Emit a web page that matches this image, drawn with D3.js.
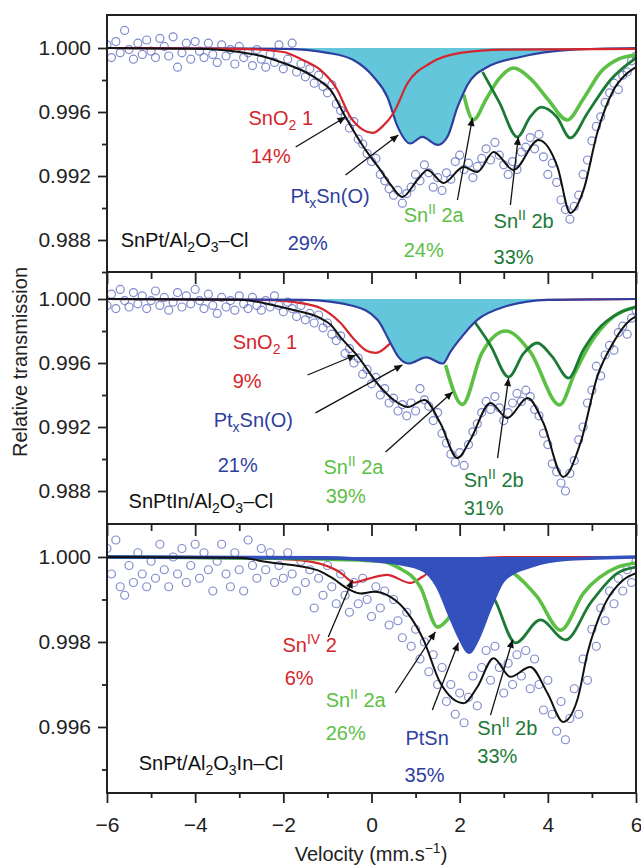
<!DOCTYPE html>
<html>
<head>
<meta charset="utf-8">
<script src="https://cdn.jsdelivr.net/npm/d3@7"></script>
<style>
body { margin: 0; background: #fff; }
text { font-family: "Liberation Sans", Arial, Helvetica, sans-serif; }
</style>
</head>
<body>
<svg id="chart" width="641" height="867"></svg>
<script>
// channel velocities (mm/s)
const velocity = [
  -6,-5.9,-5.8,-5.7,-5.6,-5.5,-5.4,-5.3,-5.2,-5.1,
  -5,-4.9,-4.8,-4.7,-4.6,-4.5,-4.4,-4.3,-4.2,-4.1,
  -4,-3.9,-3.8,-3.7,-3.6,-3.5,-3.4,-3.3,-3.2,-3.1,
  -3,-2.9,-2.8,-2.7,-2.6,-2.5,-2.4,-2.3,-2.2,-2.1,
  -2,-1.9,-1.8,-1.7,-1.6,-1.5,-1.4,-1.3,-1.2,-1.1,
  -1,-0.9,-0.8,-0.7,-0.6,-0.5,-0.4,-0.3,-0.2,-0.1,
  0,0.1,0.2,0.3,0.4,0.5,0.6,0.7,0.8,0.9,
  1,1.1,1.2,1.3,1.4,1.5,1.6,1.7,1.8,1.9,
  2,2.1,2.2,2.3,2.4,2.5,2.6,2.7,2.8,2.9,
  3,3.1,3.2,3.3,3.4,3.5,3.6,3.7,3.8,3.9,
  4,4.1,4.2,4.3,4.4,4.5,4.6,4.7,4.8,4.9,
  5,5.1,5.2,5.3,5.4,5.5,5.6,5.7,5.8,5.9,
  6];

// measured transmission, panel 1 (SnPt/Al2O3-Cl)
const meas1 = [
  1.0002,0.9994,1.0004,0.9997,1.0011,0.9999,0.9993,1.0003,0.9996,1.0005,
  0.9998,0.9994,1.0006,1.0001,0.9995,1.0007,0.9988,0.9997,1.0003,0.9993,
  1.0004,0.9998,0.9994,1.0003,0.9996,0.9991,1.0002,0.9995,0.9999,0.9990,
  1.0001,0.9994,0.9997,0.9989,0.9999,0.9993,0.9988,0.9996,0.9991,1.0002,
  0.9987,0.9993,1.0003,0.9985,0.9990,0.9982,0.9987,0.9978,0.9983,0.9976,
  0.9972,0.9977,0.9965,0.9961,0.9958,0.9950,0.9954,0.9943,0.9940,0.9934,
  0.9929,0.9931,0.9921,0.9917,0.9912,0.9908,0.9911,0.9903,0.9909,0.9913,
  0.9921,0.9917,0.9927,0.9922,0.9913,0.9919,0.9911,0.9922,0.9918,0.9929,
  0.9933,0.9924,0.9928,0.9919,0.9926,0.9931,0.9937,0.9930,0.9941,0.9933,
  0.9927,0.9921,0.9929,0.9924,0.9935,0.9938,0.9944,0.9937,0.9946,0.9932,
  0.9921,0.9928,0.9916,0.9905,0.9899,0.9893,0.9901,0.9908,0.9921,0.9930,
  0.9942,0.9951,0.9957,0.9966,0.9972,0.9978,0.9974,0.9983,0.9985,0.9992,
  0.9995];

// panel 2 (SnPtIn/Al2O3-Cl)
const meas2 = [
  0.9996,1.0003,0.9994,1.0006,0.9999,0.9995,1.0004,0.9997,1.0002,0.9994,
  0.9999,1.0005,0.9996,1.0001,0.9993,0.9998,1.0004,0.9995,1.0002,0.9997,
  1.0006,0.9999,0.9994,1.0003,0.9996,0.9991,1.0001,0.9995,0.9999,0.9993,
  1.0002,0.9997,0.9994,1.0001,0.9996,0.9993,0.9999,0.9995,1.0002,0.9996,
  0.9992,0.9998,0.9994,0.9989,0.9996,0.9987,0.9991,0.9985,0.9990,0.9982,
  0.9985,0.9978,0.9974,0.9977,0.9966,0.9969,0.9960,0.9963,0.9953,0.9956,
  0.9947,0.9951,0.9940,0.9944,0.9935,0.9938,0.9930,0.9934,0.9927,0.9935,
  0.9930,0.9944,0.9937,0.9933,0.9924,0.9929,0.9916,0.9910,0.9903,0.9898,
  0.9904,0.9896,0.9909,0.9917,0.9922,0.9929,0.9936,0.9931,0.9939,0.9932,
  0.9924,0.9929,0.9935,0.9941,0.9936,0.9943,0.9939,0.9931,0.9927,0.9916,
  0.9909,0.9897,0.9892,0.9885,0.9880,0.9891,0.9899,0.9912,0.9920,0.9935,
  0.9943,0.9958,0.9952,0.9965,0.9971,0.9968,0.9979,0.9983,0.9978,0.9988,
  0.9993];

// panel 3 (SnPt/Al2O3In-Cl)
const meas3 = [
  1.0002,0.9996,1.0004,0.9993,0.9991,0.9998,0.9994,1.0001,0.9996,0.9993,
  0.9999,0.9995,1.0003,0.9997,0.9993,1.0000,0.9996,1.0002,0.9994,0.9998,
  1.0003,0.9995,1.0001,0.9997,0.9992,0.9999,1.0003,0.9996,0.9993,1.0001,
  0.9997,0.9992,1.0004,0.9998,0.9995,1.0002,0.9997,1.0001,0.9994,0.9998,
  0.9995,1.0001,0.9996,0.9992,0.9999,0.9994,0.9997,0.9988,0.9995,0.9991,
  0.9998,0.9993,0.9989,0.9996,0.9991,0.9987,0.9994,0.9989,0.9995,0.9990,
  0.9986,0.9993,0.9988,0.9992,0.9984,0.9990,0.9985,0.9981,0.9987,0.9979,
  0.9983,0.9976,0.9980,0.9973,0.9977,0.9970,0.9974,0.9966,0.9970,0.9963,
  0.9968,0.9961,0.9967,0.9972,0.9965,0.9974,0.9978,0.9971,0.9979,0.9974,
  0.9968,0.9975,0.9970,0.9977,0.9972,0.9978,0.9969,0.9976,0.9970,0.9964,
  0.9971,0.9963,0.9959,0.9966,0.9957,0.9962,0.9969,0.9963,0.9976,0.9971,
  0.9983,0.9979,0.9988,0.9985,0.9992,0.9989,0.9995,0.9992,0.9997,0.9994,
  0.9999];

// fitted curves [velocity, transmission]
const fit1 = [[-6,1],[-4,0.99995],[-3,0.99975],[-2.5,0.9995],[-2,0.99906],[-1.5,0.9985],[-1.2,0.998],[-0.93,0.99738],[-0.59,0.99569],[-0.18,0.99381],[0.2,0.99238],[0.45,0.9914],[0.7,0.99069],[1.04,0.99175],[1.27,0.99238],[1.63,0.99156],[2.09,0.99256],[2.4,0.99225],[2.77,0.9935],[3.22,0.99238],[3.79,0.99425],[4.22,0.99256],[4.51,0.98969],[4.81,0.99113],[5.12,0.99469],[5.49,0.99738],[5.75,0.9983],[6,0.99881]];
const snO2_1 = [[-6,1],[-3,0.99995],[-2,0.99975],[-1.6,0.9993],[-1.16,0.99863],[-0.8,0.9975],[-0.48,0.9957],[-0.2,0.9949],[0.03,0.99469],[0.25,0.9951],[0.5,0.99594],[0.82,0.99781],[1.34,0.99906],[2.02,0.99969],[3,0.9999],[6,0.99995]];
const ptxSn_1 = [[-6,1],[-2,0.99995],[-1,0.9997],[-0.41,0.99925],[0.05,0.99819],[0.36,0.99694],[0.59,0.9951],[0.88,0.99403],[1.15,0.99444],[1.5,0.99394],[1.72,0.99444],[1.95,0.9963],[2.09,0.9972],[2.18,0.9977],[2.63,0.99881],[3.38,0.99944],[4.5,0.99988],[6,1]];
const snII2a_1 = [[2.09,0.9971],[2.31,0.9955],[2.6,0.9968],[2.9,0.9981],[3.22,0.99875],[3.6,0.9981],[4.0,0.9968],[4.44,0.9955],[4.8,0.9968],[5.2,0.9985],[5.6,0.9993],[6,0.99956]];
const snII2b_1 = [[2.52,0.9985],[2.9,0.9966],[3.31,0.99444],[3.6,0.9957],[3.85,0.9963],[4.2,0.9957],[4.51,0.99438],[4.9,0.99594],[5.42,0.998],[6,0.99938]];

const fit2 = [[-6,1],[-3,0.99995],[-2.2,0.9996],[-1.77,0.99931],[-1.16,0.9988],[-0.93,0.9984],[-0.7,0.9976],[-0.35,0.99655],[0.2,0.9945],[0.5,0.9937],[0.82,0.99325],[1.2,0.99369],[1.56,0.99225],[1.95,0.99006],[2.24,0.99119],[2.7,0.9935],[3.08,0.99256],[3.54,0.99381],[3.9,0.99225],[4.35,0.98888],[4.74,0.991],[5.12,0.99513],[5.5,0.99735],[5.87,0.99869],[6,0.9989]];
const snO2_2 = [[-6,1],[-2.5,0.99995],[-1.5,0.9997],[-1.16,0.99944],[-0.7,0.9985],[-0.4,0.9975],[-0.1,0.99675],[0.1,0.99663],[0.43,0.99725],[0.8,0.9985],[1.5,0.9995],[3,0.9999],[6,1]];
const ptxSn_2 = [[-6,1],[-1.5,0.99995],[-0.41,0.99956],[0.14,0.99869],[0.43,0.99725],[0.61,0.99638],[0.84,0.99597],[1.24,0.99635],[1.62,0.99597],[1.79,0.9967],[1.95,0.9973],[2.4,0.9987],[3.0,0.9995],[4,0.99995],[6,1]];
const snII2a_2 = [[1.68,0.99588],[2.06,0.9934],[2.5,0.9966],[3.05,0.998],[3.6,0.9967],[4.27,0.99338],[4.6,0.9953],[4.97,0.99725],[5.4,0.9987],[6,0.9995]];
const snII2b_2 = [[2.31,0.99869],[2.7,0.9971],[3.11,0.99513],[3.45,0.9966],[3.76,0.99725],[4.1,0.9964],[4.47,0.99506],[4.8,0.9968],[5.12,0.99806],[5.6,0.9991],[6,0.9995]];

const fit3 = [[-6,1],[-3,0.99998],[-2.36,0.99988],[-1.23,0.99969],[-0.93,0.99953],[-0.48,0.99922],[-0.25,0.99914],[0.05,0.99918],[0.43,0.99906],[0.82,0.99868],[1.18,0.99805],[1.56,0.99704],[2.09,0.99656],[2.4,0.99694],[2.77,0.99762],[3.15,0.99718],[3.6,0.99741],[3.99,0.9968],[4.35,0.99612],[4.67,0.99664],[4.9,0.99774],[5.26,0.99882],[5.71,0.99946],[6,0.99962]];
const snIV2_3 = [[-6,1],[-2,0.99995],[-1.2,0.99985],[-0.7,0.99963],[-0.4,0.9994],[-0.1,0.99948],[0.35,0.99958],[0.88,0.99939],[1.15,0.99953],[1.6,0.99985],[3,1],[6,1]];
const snII2a_3 = [[-6,1],[-1,0.99995],[0.2,0.9999],[0.59,0.99976],[1.11,0.99929],[1.5,0.99835],[1.75,0.99856],[2.2,0.9995],[2.7,0.9998],[3.22,0.99962],[3.76,0.99906],[4.29,0.99828],[4.81,0.99915],[5.58,0.99976],[6,0.99986]];
const snII2b_3 = [[-6,1],[0,0.99995],[1.5,0.9997],[2.3,0.9995],[2.77,0.99904],[3.27,0.99798],[3.83,0.99852],[4.4,0.99805],[4.97,0.99892],[5.58,0.99962],[6,0.99976]];
const ptSn_3 = [[-6,1],[-1,0.99998],[0.2,0.9999],[0.59,0.99985],[1.18,0.99969],[1.5,0.9993],[1.79,0.99859],[2.0,0.9981],[2.22,0.99776],[2.4,0.99805],[2.7,0.99882],[3.0,0.99946],[3.6,0.99978],[4.5,0.99995],[6,1]];

const xMajor = [-6, -4, -2, 0, 2, 4, 6];
const xMinor = [-5, -3, -1, 1, 3, 5];

const RED = '#d4262c', BLUE = '#2e3f9f', CYAN = '#63c6da', NAVY = '#3350bd';
const LGREEN = '#5cc045', DGREEN = '#1d7a36';

const panels = [
  { top: 15, bottom: 272, domain: [0.986, 1.0020625],
    major: [1.000, 0.996, 0.992, 0.988], minor: [0.998, 0.994, 0.990, 0.986],
    meas: meas1,
    layers: [
      { d: snII2a_1, c: LGREEN, w: 3.6 },
      { d: snII2b_1, c: DGREEN, w: 2.8 },
      { d: ptxSn_1, c: BLUE, w: 2.2, fill: CYAN },
      { d: snO2_1, c: RED, w: 2.2 },
      { d: fit1, c: '#111', w: 2 }
    ],
    labels: [
      { x: -2.79, y: 0.99519, c: RED, t: [['SnO'], ['2', 'sub'], [' 1']] },
      { x: -2.74, y: 0.99281, c: RED, t: [['14%']] },
      { x: -1.84, y: 0.99031, c: BLUE, t: [['Pt'], ['x', 'sub'], ['Sn(O)']] },
      { x: -1.9, y: 0.98738, c: BLUE, t: [['29%']] },
      { x: 0.73, y: 0.98913, c: LGREEN, t: [['Sn'], ['II', 'sup'], [' 2a']] },
      { x: 0.73, y: 0.98694, c: LGREEN, t: [['24%']] },
      { x: 2.77, y: 0.98875, c: DGREEN, t: [['Sn'], ['II', 'sup'], [' 2b']] },
      { x: 2.77, y: 0.9865, c: DGREEN, t: [['33%']] },
      { x: -5.69, y: 0.98756, c: '#111', t: [['SnPt/Al'], ['2', 'sub'], ['O'], ['3', 'sub'], ['–Cl']] }
    ],
    arrows: [
      [-1.72, 0.99381, -0.59, 0.99569],
      [-0.59, 0.99206, 0.61, 0.99456],
      [1.95, 0.9905, 2.29, 0.99563],
      [3.15, 0.99019, 3.33, 0.99444]
    ] },
  { top: 272, bottom: 524, domain: [0.9859375, 1.0016875],
    major: [1.000, 0.996, 0.992, 0.988], minor: [0.998, 0.994, 0.990],
    meas: meas2,
    layers: [
      { d: snO2_2, c: RED, w: 2.2 },
      { d: snII2a_2, c: LGREEN, w: 3.6 },
      { d: snII2b_2, c: DGREEN, w: 2.8 },
      { d: ptxSn_2, c: BLUE, w: 2.2, fill: CYAN },
      { d: fit2, c: '#111', w: 2 }
    ],
    labels: [
      { x: -3.15, y: 0.99688, c: RED, t: [['SnO'], ['2', 'sub'], [' 1']] },
      { x: -3.15, y: 0.99444, c: RED, t: [['9%']] },
      { x: -3.58, y: 0.992, c: BLUE, t: [['Pt'], ['x', 'sub'], ['Sn(O)']] },
      { x: -3.49, y: 0.9892, c: BLUE, t: [['21%']] },
      { x: -1.09, y: 0.98906, c: LGREEN, t: [['Sn'], ['II', 'sup'], [' 2a']] },
      { x: -1.04, y: 0.98725, c: LGREEN, t: [['39%']] },
      { x: 2.09, y: 0.98825, c: DGREEN, t: [['Sn'], ['II', 'sup'], [' 2b']] },
      { x: 2.09, y: 0.9865, c: DGREEN, t: [['31%']] },
      { x: -5.51, y: 0.98694, c: '#111', t: [['SnPtIn/Al'], ['2', 'sub'], ['O'], ['3', 'sub'], ['–Cl']] }
    ],
    arrows: [
      [-1.45, 0.99525, -0.36, 0.9965],
      [-1.27, 0.99288, 0.7, 0.99588],
      [0.32, 0.99044, 1.84, 0.99419],
      [2.86, 0.99006, 3.11, 0.99506]
    ] },
  { top: 524, bottom: 793, domain: [0.994447, 1.000776],
    major: [1.000, 0.998, 0.996], minor: [0.999, 0.997, 0.995],
    meas: meas3,
    layers: [
      { d: snIV2_3, c: RED, w: 2.2 },
      { d: snII2a_3, c: LGREEN, w: 3.6 },
      { d: snII2b_3, c: DGREEN, w: 2.8 },
      { d: ptSn_3, c: NAVY, w: 3.5, fill: NAVY },
      { d: fit3, c: '#111', w: 2 }
    ],
    labels: [
      { x: -2.02, y: 0.99776, c: RED, t: [['Sn'], ['IV', 'sup'], [' 2']] },
      { x: -1.97, y: 0.99699, c: RED, t: [['6%']] },
      { x: -1.04, y: 0.99647, c: LGREEN, t: [['Sn'], ['II', 'sup'], [' 2a']] },
      { x: -1.04, y: 0.99569, c: LGREEN, t: [['26%']] },
      { x: 0.77, y: 0.99558, c: BLUE, t: [['PtSn']] },
      { x: 0.75, y: 0.99471, c: BLUE, t: [['35%']] },
      { x: 2.4, y: 0.99581, c: DGREEN, t: [['Sn'], ['II', 'sup'], [' 2b']] },
      { x: 2.4, y: 0.99515, c: DGREEN, t: [['33%']] },
      { x: -5.28, y: 0.99499, c: '#111', t: [['SnPt/Al'], ['2', 'sub'], ['O'], ['3', 'sub'], ['In–Cl']] }
    ],
    arrows: [
      [-0.98, 0.99812, -0.43, 0.99946],
      [0.54, 0.9968, 1.45, 0.99824],
      [1.38, 0.9964, 1.97, 0.99798],
      [2.7, 0.99628, 3.2, 0.99805]
    ] }
];

const svg = d3.select('#chart');
const x = d3.scaleLinear().domain([-6, 6]).range([107, 636]);

svg.append('defs').append('marker')
  .attr('id', 'arrow')
  .attr('viewBox', '0 0 10 10')
  .attr('refX', 10).attr('refY', 5)
  .attr('markerWidth', 9).attr('markerHeight', 8)
  .attr('markerUnits', 'userSpaceOnUse')
  .attr('orient', 'auto')
  .append('path').attr('d', 'M0,0.5L10,5L0,9.5z').attr('fill', '#111');

function rich(g, px, py, parts, color) {
  const t = g.append('text').attr('x', px).attr('y', py)
    .attr('fill', color).attr('font-size', 20);
  let shift = 0;
  parts.forEach(p => {
    const target = p[1] === 'sup' ? -8 : p[1] === 'sub' ? 5 : 0;
    const s = t.append('tspan').text(p[0]).attr('dy', target - shift);
    if (p[1]) s.attr('font-size', 14);
    shift = target;
  });
  return t;
}

panels.forEach((p, i) => {
  const y = d3.scaleLinear().domain(p.domain).range([p.bottom, p.top]);
  const g = svg.append('g');

  g.append('clipPath').attr('id', 'clip' + i)
    .append('rect').attr('x', 107).attr('y', p.top)
    .attr('width', 529).attr('height', p.bottom - p.top);
  const plot = g.append('g').attr('clip-path', `url(#clip${i})`);

  // measured points
  plot.selectAll('circle').data(p.meas).join('circle')
    .attr('cx', (d, j) => x(velocity[j]))
    .attr('cy', d => y(d))
    .attr('r', 4)
    .attr('fill', 'none')
    .attr('stroke', '#5566bb')
    .attr('stroke-width', 1.2)
    .attr('opacity', 0.75);

  const line = d3.line().x(d => x(d[0])).y(d => y(d[1])).curve(d3.curveMonotoneX);
  const area = d3.area().x(d => x(d[0])).y0(y(1)).y1(d => y(d[1])).curve(d3.curveMonotoneX);

  p.layers.forEach(l => {
    if (l.fill) {
      plot.append('path').attr('d', area(l.d)).attr('fill', l.fill);
    }
    plot.append('path').attr('d', line(l.d))
      .attr('fill', 'none').attr('stroke', l.c)
      .attr('stroke-width', l.w).attr('stroke-linejoin', 'round');
  });

  // annotations
  p.arrows.forEach(a => {
    g.append('line')
      .attr('x1', x(a[0])).attr('y1', y(a[1]))
      .attr('x2', x(a[2])).attr('y2', y(a[3]))
      .attr('stroke', '#111').attr('stroke-width', 1.3)
      .attr('marker-end', 'url(#arrow)');
  });
  p.labels.forEach(l => rich(g, x(l.x), y(l.y), l.t, l.c));

  // axes
  const ya = g.append('g').attr('transform', 'translate(107,0)')
    .call(d3.axisLeft(y).tickValues(p.major).tickSize(9).tickPadding(7)
      .tickFormat(d3.format('.3f')));
  const ym = g.append('g').attr('transform', 'translate(107,0)')
    .call(d3.axisLeft(y).tickValues(p.minor).tickSize(5).tickFormat(''));

  const last = i === panels.length - 1;
  const xa = g.append('g').attr('transform', `translate(0,${p.bottom})`)
    .call(d3.axisBottom(x).tickValues(xMajor).tickSize(last ? 10 : 12)
      .tickPadding(14).tickFormat(last ? d3.format('d') : ''));
  const xm = g.append('g').attr('transform', `translate(0,${p.bottom})`)
    .call(d3.axisBottom(x).tickValues(xMinor).tickSize(last ? 5 : 7).tickFormat(''));

  [ya, ym, xa, xm].forEach(a => {
    a.select('.domain').remove();
    a.selectAll('line').attr('stroke', '#222').attr('stroke-width', 1.8);
    a.selectAll('text').attr('font-size', 21).attr('fill', '#222')
      .style('font-family', '"Liberation Sans", Arial, sans-serif');
  });

  g.append('rect').attr('x', 107).attr('y', p.top)
    .attr('width', 529).attr('height', p.bottom - p.top)
    .attr('fill', 'none').attr('stroke', '#222').attr('stroke-width', 2);
});

svg.append('text')
  .attr('transform', 'translate(27,362) rotate(-90)')
  .attr('text-anchor', 'middle').attr('font-size', 20).attr('fill', '#222')
  .text('Relative transmission');

const xt = svg.append('text').attr('x', 371).attr('y', 861)
  .attr('text-anchor', 'middle').attr('font-size', 20).attr('fill', '#222');
xt.append('tspan').text('Velocity (mm.s');
xt.append('tspan').text('−1').attr('font-size', 14).attr('dy', -8);
xt.append('tspan').text(')').attr('dy', 8);
</script>
</body>
</html>
